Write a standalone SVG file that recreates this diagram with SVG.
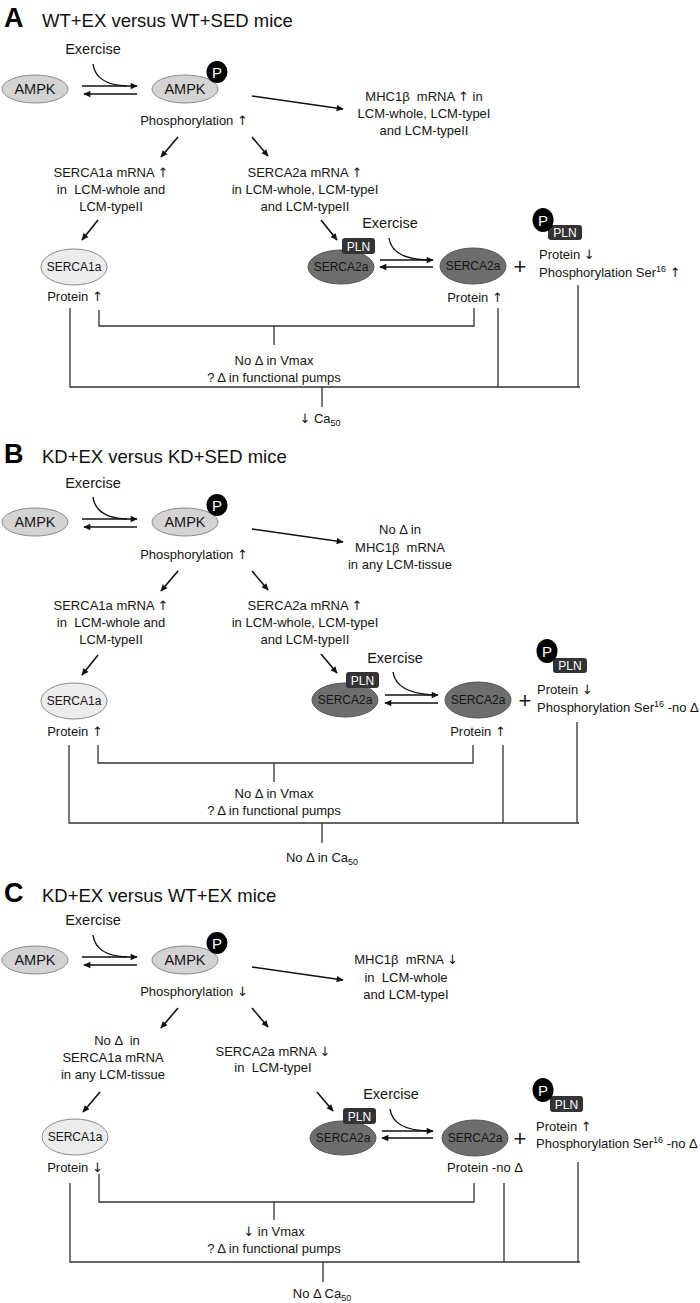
<svg xmlns="http://www.w3.org/2000/svg" width="700" height="1303" viewBox="0 0 700 1303">
<defs>
<marker id="ah" viewBox="0 0 10 10" refX="9" refY="5" markerWidth="8" markerHeight="7" markerUnits="userSpaceOnUse" orient="auto">
<path d="M0,0.5 L10,5 L0,9.5 z" fill="#111"/>
</marker>
<style>
text{font-family:"Liberation Sans",Arial,sans-serif;font-size:13px;fill:#151515;white-space:pre}
.a{font-family:"DejaVu Sans",sans-serif;font-size:13px;font-weight:normal;fill:#151515}
.c{text-anchor:middle}
.ttl{font-size:18.5px;fill:#111}
.big{font-size:27px;font-weight:bold;fill:#000}
.ex{font-size:14.5px}
.nm{font-size:14.5px;text-anchor:middle}
.sm{font-size:12px;text-anchor:middle}
.wt{fill:#fff}
.plus{font-size:22px;text-anchor:middle}
.ar{stroke:#111;stroke-width:1.6;fill:none;marker-end:url(#ah)}
.cv{stroke:#111;stroke-width:1.4;fill:none}
.br{stroke:#333;stroke-width:1.3;fill:none}
.ampk{fill:#d3d3d3;stroke:#8a8a8a;stroke-width:1}
.s1{fill:#ececec;stroke:#8a8a8a;stroke-width:1}
.s2{fill:#6e6e6e;stroke:#555;stroke-width:1}
.pln{fill:#333}
.pc{fill:#000}
</style>
</defs>
<rect width="700" height="1303" fill="#fff"/>

<!-- ================= PANEL A ================= -->
<g id="A-title"><text x="4" y="27" class="big">A</text><text x="42" y="27" class="ttl">WT+EX versus WT+SED mice</text></g>
<g id="A-connectors">
<path class="ar" d="M82,86 H137"/>
<path class="ar" d="M137,94 H84"/>
<path class="cv" d="M93,64 Q96,85 127,86"/>
<path class="ar" d="M252,96 L343,109"/>
<path class="ar" d="M178,137 L161,157"/>
<path class="ar" d="M252,137 L268,156"/>
<path class="ar" d="M98,220 L82,240"/>
<path class="ar" d="M321,220 L337,240"/>
<path class="cv" d="M389,238 Q392,259 428,260"/>
<path class="ar" d="M380,260 H433"/>
<path class="ar" d="M433,267 H380"/>
<path class="br" d="M99,310 V326 H474 V308 M274,326 V345"/>
<path class="br" d="M70,308 V387 H580 M498,308 V387 M578,285 V387 M322,387 V407"/>
</g>
<g id="A-exercise1"><text x="93" y="54" class="ex c">Exercise</text></g>
<g id="A-ampk1"><ellipse cx="35" cy="89" rx="33" ry="14" class="ampk"/><text x="35" y="94" class="nm">AMPK</text></g>
<g id="A-ampk2"><ellipse cx="185" cy="89" rx="33" ry="14" class="ampk"/><text x="185" y="94" class="nm">AMPK</text><ellipse cx="217" cy="72" rx="10.5" ry="11" class="pc"/><text x="217" y="77.5" class="nm wt" style="font-size:15px">P</text></g>
<g id="A-phos"><text x="194" y="125" class="c">Phosphorylation <tspan class="a">↑</tspan></text></g>
<g id="A-mhc"><text x="424" y="101" class="c">MHC1β  mRNA <tspan class="a">↑</tspan> in</text><text x="424" y="118" class="c">LCM-whole, LCM-typeI</text><text x="424" y="135" class="c">and LCM-typeII</text></g>
<g id="A-s1mrna"><text x="111" y="177" class="c">SERCA1a mRNA <tspan class="a">↑</tspan></text><text x="111" y="194" class="c">in  LCM-whole and</text><text x="111" y="211" class="c">LCM-typeII</text></g>
<g id="A-s2mrna"><text x="305" y="177" class="c">SERCA2a mRNA <tspan class="a">↑</tspan></text><text x="305" y="194" class="c">in LCM-whole, LCM-typeI</text><text x="305" y="211" class="c">and LCM-typeII</text></g>
<g id="A-serca1a"><ellipse cx="74" cy="267" rx="33" ry="18" class="s1"/><text x="74" y="271" class="sm">SERCA1a</text><text x="75" y="301" class="c">Protein <tspan class="a">↑</tspan></text></g>
<g id="A-serca2a-pln"><ellipse cx="341" cy="267" rx="33" ry="17" class="s2"/><text x="341" y="271" class="sm">SERCA2a</text><rect x="342" y="238" width="33" height="16" rx="3" class="pln"/><text x="358.5" y="250.5" class="sm wt">PLN</text></g>
<g id="A-exercise2"><text x="390" y="228" class="ex c">Exercise</text></g>
<g id="A-serca2a"><ellipse cx="473" cy="266" rx="33" ry="18" class="s2"/><text x="473" y="270" class="sm">SERCA2a</text><text x="475" y="302" class="c">Protein <tspan class="a">↑</tspan></text></g>
<g id="A-plus"><text x="520" y="274" class="plus">+</text></g>
<g id="A-ppln"><rect x="548" y="225" width="34" height="15" rx="3" class="pln"/><text x="565" y="237" class="sm wt">PLN</text><ellipse cx="543" cy="220" rx="10.5" ry="12" class="pc"/><text x="543" y="225.5" class="nm wt" style="font-size:15px">P</text>
<text x="539" y="259">Protein <tspan class="a">↓</tspan></text><text x="539" y="277">Phosphorylation Ser<tspan dy="-5" font-size="9">16</tspan><tspan dy="5"> </tspan><tspan class="a">↑</tspan></text></g>
<g id="A-vmax"><text x="274" y="365" class="c">No Δ in Vmax</text><text x="274" y="382" class="c">? Δ in functional pumps</text></g>
<g id="A-ca"><text x="320" y="423" class="c"><tspan class="a">↓</tspan> Ca<tspan dy="3" font-size="9">50</tspan></text></g>

<!-- ================= PANEL B ================= -->
<g id="B-title"><text x="4" y="463" class="big">B</text><text x="42" y="463" class="ttl">KD+EX versus KD+SED mice</text></g>
<g id="B-connectors">
<path class="ar" d="M82,519 H137"/>
<path class="ar" d="M137,527 H84"/>
<path class="cv" d="M93,497 Q96,518 127,519"/>
<path class="ar" d="M252,529 L343,542"/>
<path class="ar" d="M178,571 L161,591"/>
<path class="ar" d="M252,571 L268,590"/>
<path class="ar" d="M98,655 L82,675"/>
<path class="ar" d="M321,654 L337,673"/>
<path class="cv" d="M393,672 Q396,693 433,695"/>
<path class="ar" d="M385,695 H438"/>
<path class="ar" d="M438,703 H385"/>
<path class="br" d="M98,745 V763 H473 V745 M274,763 V782"/>
<path class="br" d="M69,745 V823 H579 M503,745 V823 M577,722 V823 M322,823 V843"/>
</g>
<g id="B-exercise1"><text x="93" y="488" class="ex c">Exercise</text></g>
<g id="B-ampk1"><ellipse cx="35" cy="522" rx="33" ry="14" class="ampk"/><text x="35" y="527" class="nm">AMPK</text></g>
<g id="B-ampk2"><ellipse cx="185" cy="522" rx="33" ry="14" class="ampk"/><text x="185" y="527" class="nm">AMPK</text><ellipse cx="217" cy="505" rx="10.5" ry="11" class="pc"/><text x="217" y="510.5" class="nm wt" style="font-size:15px">P</text></g>
<g id="B-phos"><text x="194" y="559" class="c">Phosphorylation <tspan class="a">↑</tspan></text></g>
<g id="B-mhc"><text x="400" y="534" class="c">No Δ in</text><text x="400" y="552" class="c">MHC1β  mRNA</text><text x="400" y="569" class="c">in any LCM-tissue</text></g>
<g id="B-s1mrna"><text x="111" y="610" class="c">SERCA1a mRNA <tspan class="a">↑</tspan></text><text x="111" y="627" class="c">in  LCM-whole and</text><text x="111" y="644" class="c">LCM-typeII</text></g>
<g id="B-s2mrna"><text x="305" y="610" class="c">SERCA2a mRNA <tspan class="a">↑</tspan></text><text x="305" y="627" class="c">in LCM-whole, LCM-typeI</text><text x="305" y="644" class="c">and LCM-typeII</text></g>
<g id="B-serca1a"><ellipse cx="74" cy="701" rx="33" ry="18" class="s1"/><text x="74" y="705" class="sm">SERCA1a</text><text x="75" y="736" class="c">Protein <tspan class="a">↑</tspan></text></g>
<g id="B-serca2a-pln"><ellipse cx="345" cy="700" rx="33" ry="17" class="s2"/><text x="345" y="704" class="sm">SERCA2a</text><rect x="346" y="672" width="33" height="16" rx="3" class="pln"/><text x="362.5" y="684.5" class="sm wt">PLN</text></g>
<g id="B-exercise2"><text x="395" y="663" class="ex c">Exercise</text></g>
<g id="B-serca2a"><ellipse cx="478" cy="700" rx="33" ry="18" class="s2"/><text x="478" y="704" class="sm">SERCA2a</text><text x="478" y="736" class="c">Protein <tspan class="a">↑</tspan></text></g>
<g id="B-plus"><text x="525" y="708" class="plus">+</text></g>
<g id="B-ppln"><rect x="553" y="658" width="34" height="15" rx="3" class="pln"/><text x="570" y="670" class="sm wt">PLN</text><ellipse cx="547" cy="651" rx="10.5" ry="12" class="pc"/><text x="547" y="656.5" class="nm wt" style="font-size:15px">P</text>
<text x="537" y="694">Protein <tspan class="a">↓</tspan></text><text x="537" y="712">Phosphorylation Ser<tspan dy="-5" font-size="9">16</tspan><tspan dy="5"> -no Δ</tspan></text></g>
<g id="B-vmax"><text x="274" y="798" class="c">No Δ in Vmax</text><text x="274" y="815" class="c">? Δ in functional pumps</text></g>
<g id="B-ca"><text x="322" y="862" class="c">No Δ in Ca<tspan dy="3" font-size="9">50</tspan></text></g>

<!-- ================= PANEL C ================= -->
<g id="C-title"><text x="4" y="902" class="big">C</text><text x="42" y="902" class="ttl">KD+EX versus WT+EX mice</text></g>
<g id="C-connectors">
<path class="ar" d="M82,957 H137"/>
<path class="ar" d="M137,965 H84"/>
<path class="cv" d="M93,935 Q96,956 127,957"/>
<path class="ar" d="M252,967 L343,980"/>
<path class="ar" d="M178,1008 L161,1028"/>
<path class="ar" d="M252,1008 L268,1027"/>
<path class="ar" d="M100,1092 L83,1112"/>
<path class="ar" d="M317,1092 L333,1111"/>
<path class="cv" d="M390,1109 Q393,1130 428,1131"/>
<path class="ar" d="M382,1131 H433"/>
<path class="ar" d="M433,1138 H382"/>
<path class="br" d="M99,1174 V1202 H474 V1183 M274,1202 V1220"/>
<path class="br" d="M70,1183 V1262 H580 M504,1183 V1262 M578,1162 V1262 M323,1262 V1282"/>
</g>
<g id="C-exercise1"><text x="93" y="925" class="ex c">Exercise</text></g>
<g id="C-ampk1"><ellipse cx="35" cy="960" rx="33" ry="14" class="ampk"/><text x="35" y="965" class="nm">AMPK</text></g>
<g id="C-ampk2"><ellipse cx="185" cy="960" rx="33" ry="14" class="ampk"/><text x="185" y="965" class="nm">AMPK</text><ellipse cx="217" cy="943" rx="10.5" ry="11" class="pc"/><text x="217" y="948.5" class="nm wt" style="font-size:15px">P</text></g>
<g id="C-phos"><text x="194" y="996" class="c">Phosphorylation <tspan class="a">↓</tspan></text></g>
<g id="C-mhc"><text x="406" y="964" class="c">MHC1β  mRNA <tspan class="a">↓</tspan></text><text x="406" y="982" class="c">in  LCM-whole</text><text x="406" y="999" class="c">and LCM-typeI</text></g>
<g id="C-s1mrna"><text x="117" y="1045" class="c">No Δ  in</text><text x="113" y="1062" class="c">SERCA1a mRNA</text><text x="113" y="1079" class="c">in any LCM-tissue</text></g>
<g id="C-s2mrna"><text x="273" y="1056" class="c">SERCA2a mRNA <tspan class="a">↓</tspan></text><text x="273" y="1072" class="c">in  LCM-typeI</text></g>
<g id="C-serca1a"><ellipse cx="75" cy="1137" rx="33" ry="18" class="s1"/><text x="75" y="1141" class="sm">SERCA1a</text><text x="75" y="1172" class="c">Protein <tspan class="a">↓</tspan></text></g>
<g id="C-serca2a-pln"><ellipse cx="343" cy="1138" rx="33" ry="17" class="s2"/><text x="343" y="1142" class="sm">SERCA2a</text><rect x="343" y="1108" width="33" height="16" rx="3" class="pln"/><text x="359.5" y="1120.5" class="sm wt">PLN</text></g>
<g id="C-exercise2"><text x="391" y="1099" class="ex c">Exercise</text></g>
<g id="C-serca2a"><ellipse cx="475" cy="1138" rx="33" ry="18" class="s2"/><text x="475" y="1142" class="sm">SERCA2a</text><text x="485" y="1172" class="c">Protein -no Δ</text></g>
<g id="C-plus"><text x="520" y="1146" class="plus">+</text></g>
<g id="C-ppln"><rect x="550" y="1096" width="33" height="16" rx="3" class="pln"/><text x="566.5" y="1108.5" class="sm wt">PLN</text><ellipse cx="543" cy="1090" rx="10.5" ry="12" class="pc"/><text x="543" y="1095.5" class="nm wt" style="font-size:15px">P</text>
<text x="536" y="1131">Protein <tspan class="a">↑</tspan></text><text x="536" y="1148">Phosphorylation Ser<tspan dy="-5" font-size="9">16</tspan><tspan dy="5"> -no Δ</tspan></text></g>
<g id="C-vmax"><text x="274" y="1236" class="c"><tspan class="a">↓</tspan> in Vmax</text><text x="274" y="1253" class="c">? Δ in functional pumps</text></g>
<g id="C-ca"><text x="322" y="1298" class="c">No Δ Ca<tspan dy="3" font-size="9">50</tspan></text></g>
</svg>
